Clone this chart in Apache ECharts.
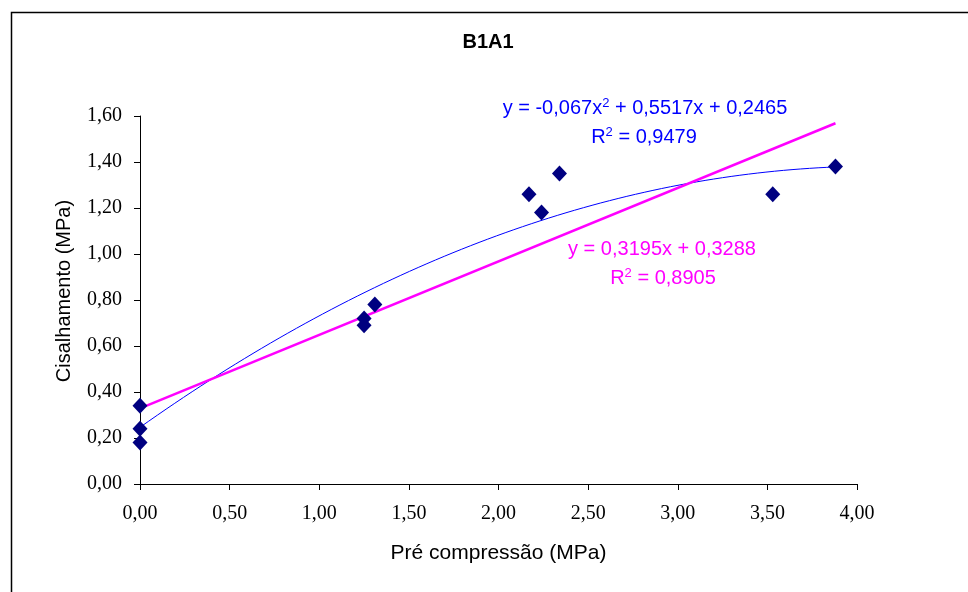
<!DOCTYPE html>
<html><head><meta charset="utf-8">
<script src="https://cdn.jsdelivr.net/npm/echarts@6/dist/echarts.min.js"></script>
<style>html,body{margin:0;padding:0;background:#fff}#c{width:968px;height:592px}</style>
</head><body><div id="c"></div>
<script>
const preCompressao = [0.00, 0.00, 0.00, 1.25, 1.25, 1.31, 2.17, 2.24, 2.34, 3.53, 3.88];
const cisalhamento = [0.34, 0.24, 0.18, 0.72, 0.69, 0.78, 1.26, 1.18, 1.35, 1.26, 1.38];
const polyCoef = [-0.067, 0.5517, 0.2465];
const linCoef = [0.3195, 0.3288];
const trendRange = [0, 3.88];
const xTicks = ['0,00','0,50','1,00','1,50','2,00','2,50','3,00','3,50','4,00'];

const pts = preCompressao.map((x,i)=>[x, cisalhamento[i]]);
const polyData = [];
for (let i=0;i<=80;i++){const x=trendRange[0]+(trendRange[1]-trendRange[0])*i/80; polyData.push([x, polyCoef[0]*x*x+polyCoef[1]*x+polyCoef[2]]);}
const linData = trendRange.map(x=>[x, linCoef[0]*x+linCoef[1]]);
const fmt = v => v.toFixed(2).replace('.', ',');

const chart = echarts.init(document.getElementById('c'));
chart.setOption({
  animation:false,
  backgroundColor:'#fff',
  grid:{left:140, right:111, top:116, bottom:108},
  xAxis:{type:'value', min:0, max:4, interval:0.5,
    name:'Pré compressão (MPa)', nameLocation:'middle', nameGap:59,
    nameTextStyle:{fontFamily:'Liberation Sans', fontSize:21, color:'#000'},
    axisLine:{lineStyle:{color:'#000', width:1}},
    axisTick:{inside:false, length:6, lineStyle:{color:'#000'}},
    axisLabel:{formatter:fmt, fontFamily:'Liberation Serif', fontSize:20, color:'#000', margin:20},
    splitLine:{show:false}},
  yAxis:{type:'value', min:0, max:1.6, interval:0.2,
    axisLine:{show:true, lineStyle:{color:'#000', width:1}},
    axisTick:{show:true, inside:false, length:6, lineStyle:{color:'#000'}},
    axisLabel:{formatter:fmt, fontFamily:'Liberation Serif', fontSize:20, color:'#000', margin:18},
    splitLine:{show:false}},
  series:[
    {type:'line', data:polyData, showSymbol:false, smooth:false, lineStyle:{color:'#0000FF', width:1}, z:2},
    {type:'line', data:linData, showSymbol:false, lineStyle:{color:'#FF00FF', width:2.5}, z:3},
    {type:'scatter', data:pts, symbol:'diamond', symbolSize:[15,16], itemStyle:{color:'#000080', opacity:1}, z:4}
  ],
  graphic:[
    {type:'rect', shape:{x:11.5, y:12.5, width:970, height:600}, style:{fill:'none', stroke:'#000', lineWidth:1.5}, silent:true},
    {type:'text', x:488, y:42, style:{text:'B1A1', align:'center', verticalAlign:'middle', fill:'#000', font:'bold 20px "Liberation Sans"'}},
    {type:'text', x:64, y:291, rotation:Math.PI/2, style:{text:'Cisalhamento (MPa)', align:'center', verticalAlign:'middle', fill:'#000', font:'20px "Liberation Sans"'}},
    {type:'text', x:645, y:108, style:{text:'y = -0,067x{s|2} + 0,5517x + 0,2465', align:'center', verticalAlign:'middle', fill:'#0000FF', font:'20px "Liberation Sans"', rich:{s:{fontSize:13, padding:[0,0,10,0], fill:'#0000FF', fontFamily:'Liberation Sans'}}}},
    {type:'text', x:644, y:137, style:{text:'R{s|2} = 0,9479', align:'center', verticalAlign:'middle', fill:'#0000FF', font:'20px "Liberation Sans"', rich:{s:{fontSize:13, padding:[0,0,10,0], fill:'#0000FF', fontFamily:'Liberation Sans'}}}},
    {type:'text', x:662, y:249, style:{text:'y = 0,3195x + 0,3288', align:'center', verticalAlign:'middle', fill:'#FF00FF', font:'20px "Liberation Sans"'}},
    {type:'text', x:663, y:278, style:{text:'R{s|2} = 0,8905', align:'center', verticalAlign:'middle', fill:'#FF00FF', font:'20px "Liberation Sans"', rich:{s:{fontSize:13, padding:[0,0,10,0], fill:'#FF00FF', fontFamily:'Liberation Sans'}}}}
  ]
});
</script></body></html>
